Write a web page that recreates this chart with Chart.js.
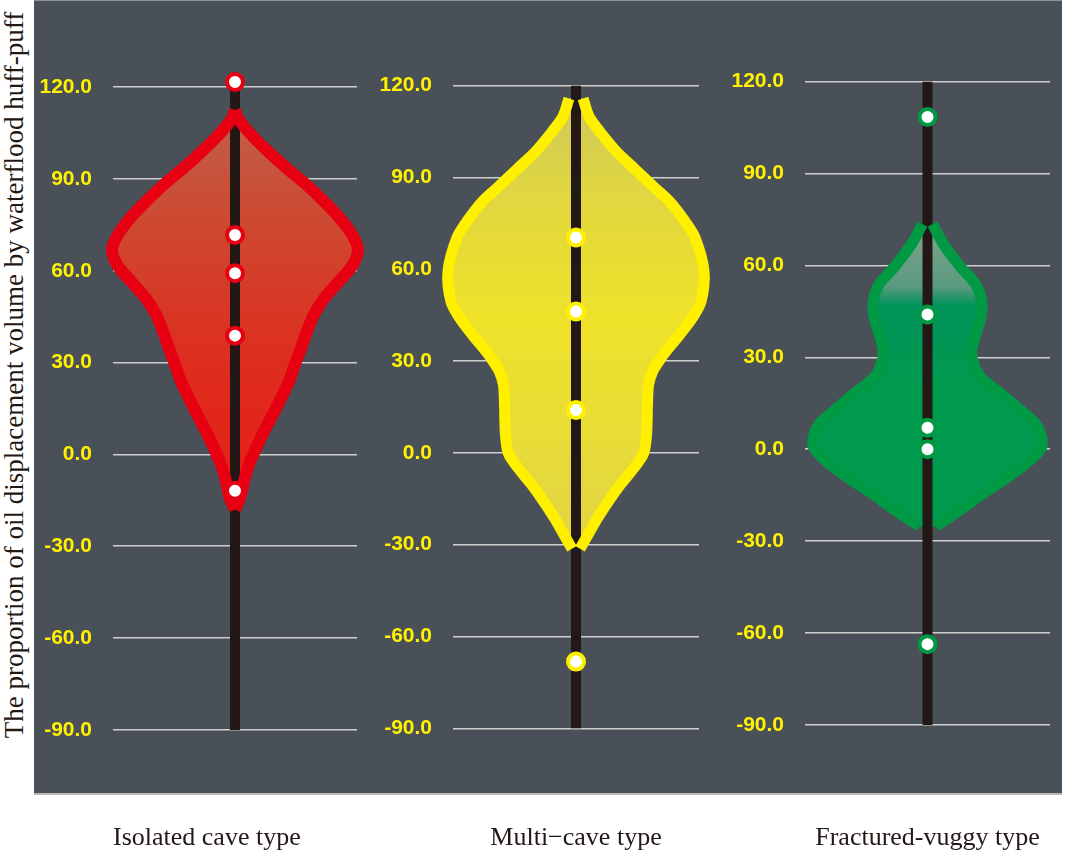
<!DOCTYPE html>
<html>
<head>
<meta charset="utf-8">
<script src="https://cdn.jsdelivr.net/npm/chart.js@4.4.0/dist/chart.umd.min.js"></script>
<style>
  body { margin: 0; background: #ffffff; width: 1065px; height: 859px; overflow: hidden; position: relative; }
  #bg { position: absolute; left: 34px; top: 0; width: 1028px; height: 795px; box-sizing: border-box;
        background: #495057; border-top: 1px solid #8c9298; border-bottom: 2px solid #b9b9b9; }
  .panel { position: absolute; top: 0; }
  #ytitle { position: absolute; left: -366px; top: 360px; width: 760px; height: 30px; line-height: 30px;
            text-align: center; white-space: nowrap; transform: rotate(-90deg);
            font-family: 'Liberation Serif', serif; font-size: 27px; color: #231815; }
</style>
</head>
<body>
<div id="bg"></div>
<div id="ytitle">The proportion of oil displacement volume by waterflood huff-puff</div>
<canvas id="c1" class="panel" width="344" height="859" style="left:33px"></canvas>
<canvas id="c2" class="panel" width="346" height="859" style="left:373px"></canvas>
<canvas id="c3" class="panel" width="345" height="859" style="left:725px"></canvas>
<script>
// categories
const categories = ['Isolated cave type', 'Multi\u2212cave type', 'Fractured-vuggy type'];

// violin outlines: value levels and half widths (density)
const isolatedLevels = [112.5, 109.7, 104.5, 99, 93.4, 88.2, 82.6, 77.1, 71.8, 67, 62, 56.5, 50.9, 45.7, 40.2, 34.6, 29.4, 23.8, 18.3, 13.1, 7.5, 2, -3.3, -8.8, -14.4, -18];
const isolatedWidth  = [0, 3, 16, 33, 52, 71, 89, 105, 117, 123, 118, 104, 89, 79, 72, 66, 60, 54, 46, 38, 29, 21, 14, 9, 5, 0];
const multiLevels = [115.8, 109.9, 104, 98.5, 92.9, 87, 82.1, 76.2, 70.4, 59.3, 49.4, 43.9, 38.7, 33.1, 29.8, 26.6, 22.3, 16.8, 6, -0.2, -5.1, -10.4, -15.9, -21.5, -26.7, -31.3];
const multiWidth  = [7, 13, 26, 40, 58, 77, 93, 107, 118, 127, 124, 115, 103, 89, 82, 76, 72, 71, 70, 67, 57, 44, 32, 21, 12, 4];
const fracturedLevels = [73.5, 66.9, 59.1, 53.9, 48.3, 42.8, 37.5, 32, 27.8, 23.2, 18, 12.4, 8.2, 3.6, 0.3, -3.9, -9.5, -14.7, -20.2, -25.1];
const fracturedWidth  = [5, 16, 34, 48, 54, 53, 48, 44, 46, 54, 74, 94, 108, 114, 113, 101, 78, 54, 31, 8];

// marked points on each violin
const isolatedPoints = [121.6, 71.7, 59.2, 38.8, -11.9];
const multiPoints = [70.4, 46.2, 14.0, -68.2];
const fracturedPoints = [108.5, 44.0, 7.0, 0, -63.6];

// axis range / ticks
const yMin = -90, yMax = 120, yStep = 30;
const whiskerRange = [-90, 120];

function gradient(stops) {
  return (ctx) => {
    const chart = ctx.chart;
    if (!chart.chartArea) return null;
    const y = chart.scales.y;
    const v0 = stops[0][0], v1 = stops[stops.length - 1][0];
    const g = chart.ctx.createLinearGradient(0, y.getPixelForValue(v0), 0, y.getPixelForValue(v1));
    stops.forEach(s => g.addColorStop((s[0] - v0) / (v1 - v0), s[1]));
    return g;
  };
}

function makeViolin(id, o) {
  const left = o.levels.map((v, i) => ({x: -o.width[i], y: v}));
  const right = o.levels.map((v, i) => ({x: o.width[i], y: v}));
  const shape = left.concat(right.slice().reverse());

  new Chart(document.getElementById(id), {
    type: 'line',
    data: {
      datasets: [
        { // points
          data: o.points.map(v => ({x: 0, y: v})),
          showLine: false,
          pointRadius: 8,
          pointBorderWidth: 4,
          pointBackgroundColor: '#ffffff',
          pointBorderColor: o.color,
          clip: false
        },
        { // left outline
          data: left, borderColor: o.color, borderWidth: o.lw, tension: 0.3,
          borderCapStyle: 'butt', pointRadius: 0, fill: false, clip: false
        },
        { // right outline
          data: right, borderColor: o.color, borderWidth: o.lw, tension: 0.3,
          borderCapStyle: 'butt', pointRadius: 0, fill: false, clip: false
        },
        { // centre line
          data: whiskerRange.map(v => ({x: 0, y: v})),
          borderColor: '#231815', borderWidth: 10, borderCapStyle: 'butt',
          pointRadius: 0, fill: false, clip: false
        },
        { // body
          data: shape, borderWidth: 0, tension: 0.3, pointRadius: 0,
          fill: 'shape', backgroundColor: gradient(o.stops), clip: false
        }
      ]
    },
    options: {
      responsive: false,
      animation: false,
      events: [],
      layout: { autoPadding: false, padding: { top: o.top, bottom: 5.4, left: 0, right: 20 } },
      elements: { line: { capBezierPoints: false } },
      plugins: { legend: { display: false }, tooltip: { enabled: false } },
      scales: {
        x: {
          type: 'linear', min: -122, max: 122,
          grid: { display: false, drawTicks: false },
          border: { display: false },
          ticks: { display: false },
          title: {
            display: true, text: o.label, align: o.align,
            color: '#231815',
            font: { family: 'Liberation Serif', size: 26 },
            padding: { top: o.titlePad, bottom: 0 }
          }
        },
        y: {
          min: yMin, max: yMax,
          afterFit: (s) => { s.width = 80; },
          grid: { color: '#cfcfcf', lineWidth: 1.6, drawTicks: false },
          border: { display: false },
          ticks: {
            stepSize: yStep, padding: 21, color: '#fff100',
            font: { family: 'Liberation Sans', size: 21, weight: 'bold' },
            callback: v => v.toFixed(1)
          }
        }
      }
    }
  });
}

makeViolin('c1', {
  levels: isolatedLevels, width: isolatedWidth, points: isolatedPoints,
  color: '#e60012', lw: 12, label: categories[0], align: 'start', top: 87, titlePad: 92.4,
  stops: [[115, 'rgba(190,98,76,1)'], [75, 'rgba(206,72,48,1)'], [30, 'rgba(222,45,30,1)'], [-20, 'rgba(230,28,20,1)']]
});
makeViolin('c2', {
  levels: multiLevels, width: multiWidth, points: multiPoints,
  color: '#fff000', lw: 11, label: categories[1], align: 'center', top: 85.7, titlePad: 94.1,
  stops: [[116, '#cfc85a'], [85, '#e0d640'], [45, '#efe22a'], [10, '#e9dd35'], [-31, '#e0d545']]
});
makeViolin('c3', {
  levels: fracturedLevels, width: fracturedWidth, points: fracturedPoints,
  color: '#009a44', lw: 11, label: categories[2], align: 'center', top: 81.7, titlePad: 97.4,
  stops: [[73, '#7fa38d'], [53, '#5a9a7e'], [47, '#00935a'], [20, '#009a4e'], [-25, '#009a4e']]
});
</script>
</body>
</html>
